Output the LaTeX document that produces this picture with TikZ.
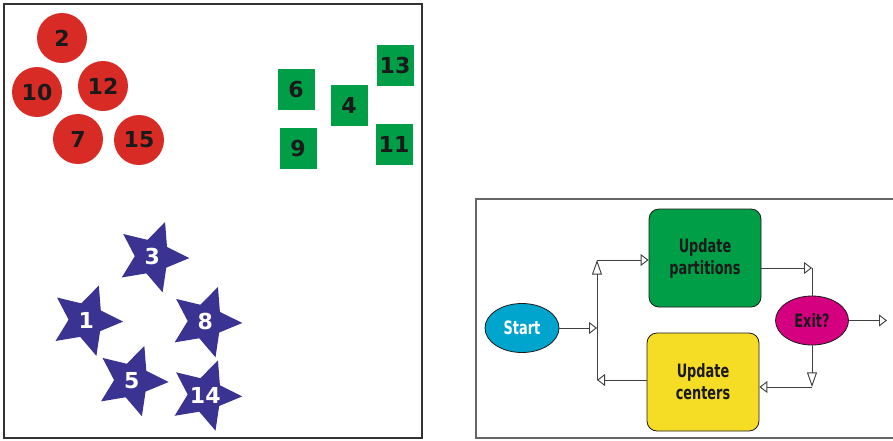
\documentclass[tikz,border=0pt]{standalone}
\usepackage{fontspec}
\setmainfont{DejaVu Sans}
\newfontfamily\numfont{DejaVu Sans Bold}
\newfontfamily\flowfont{DejaVu Sans Bold}[FakeStretch=0.7]
\usetikzlibrary{shapes.geometric,arrows.meta,positioning,calc}
\definecolor{clred}{HTML}{D92B26}
\definecolor{clgreen}{HTML}{009F47}
\definecolor{clblue}{HTML}{3B3391}
\definecolor{clcyan}{HTML}{00A5CE}
\definecolor{clmagenta}{HTML}{D5007F}
\definecolor{clyellow}{HTML}{F6DD25}
\definecolor{clink}{HTML}{1A1A1A}

\begin{document}
\begin{tikzpicture}[x=0.75pt,y=-0.75pt,font=\numfont\fontsize{16.5}{18}\selectfont,
  redball/.style={circle,fill=clred,minimum size=37.5pt,inner sep=0pt,text=clink},
  greenbox/.style={rectangle,fill=clgreen,minimum width=27.75pt,minimum height=30.75pt,inner sep=0pt,text=clink},
  bluestar/.style={star,star points=5,star point ratio=2.1,shape border rotate=-20,fill=clblue,minimum size=55.5pt,inner sep=0pt,text=white},
  flowbox/.style={rectangle,rounded corners=7.5pt,draw=clink,line width=0.6pt,minimum width=84pt,minimum height=73.5pt,align=center,text=clink,font=\flowfont\fontsize{13.8}{16.5}\selectfont},
  flowoval/.style={ellipse,draw=clink,line width=0.6pt,minimum width=55.5pt,minimum height=36.75pt,inner sep=0pt,font=\flowfont\fontsize{13.8}{16.5}\selectfont},
  flowline/.style={draw=black!75,line width=0.7pt},
  harrow/.style={flowline,-{Triangle[open,length=6pt,width=9pt]}},
  varrow/.style={flowline,-{Triangle[open,length=11pt,width=7.5pt]}}]
\useasboundingbox (0,0) rectangle (893,440);
\draw[draw=black!80,line width=1pt] (4,4) rectangle (422,438);
\draw[draw=black!60,line width=0.8pt] (476,199) rectangle (897,438);

\node[redball] (n2) at (62,38) {2};
\node[redball] (n10) at (37,92) {10};
\node[redball] (n12) at (103,86) {12};
\node[redball] (n7) at (78,139) {7};
\node[redball] (n15) at (139,140) {15};

\node[greenbox] (n6) at (296,89) {6};
\node[greenbox] (n4) at (349,105) {4};
\node[greenbox] (n13) at (395,65) {13};
\node[greenbox] (n9) at (298,148) {9};
\node[greenbox] (n11) at (394,144) {11};

\node[bluestar] (n3) at (152.4,256.8) {3};
\node[bluestar] (n1) at (86.2,320.3) {1};
\node[bluestar] (n8) at (205.3,321.7) {8};
\node[bluestar] (n5) at (131.7,380.7) {5};
\node[bluestar] (n14) at (205.3,395.1) {\makebox[0pt]{14}};

\node[flowoval,fill=clcyan,text=white] (start) at (522,328) {Start};
\node[flowbox,fill=clgreen] (part) at (705,258) {Update\\partitions};
\node[flowbox,fill=clyellow] (cent) at (703,382) {Update\\centers};
\node[flowoval,fill=clmagenta,text=clink,minimum width=54.75pt] (exit) at (812,320.5) {Exit?};

\coordinate (jtop) at (597,260);
\coordinate (jmid) at (597,328);
\coordinate (jbot) at (597,380);
\coordinate (etop) at (812,268);
\coordinate (ebot) at (812,387);
\coordinate (eout) at (887,320.5);

\draw[harrow] (start) -- (jmid);
\draw[harrow] (cent.west |- jbot) -- (jbot);
\draw[varrow] (jbot) -- (jtop);
\draw[harrow] (jtop) -- (part.west |- jtop);
\draw[harrow] (part.east |- etop) -- (etop);
\draw[flowline] (etop) -- (exit);
\draw[varrow] (exit) -- (ebot);
\draw[harrow] (ebot) -- (cent.east |- ebot);
\draw[harrow] (exit) -- (eout);
\end{tikzpicture}
\end{document}
